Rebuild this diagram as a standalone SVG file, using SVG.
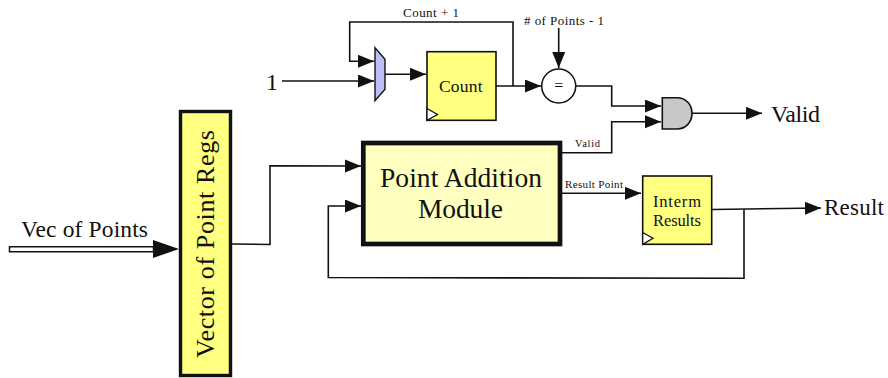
<svg xmlns="http://www.w3.org/2000/svg" width="888" height="378" viewBox="0 0 888 378">
<style>
text{font-family:"Liberation Serif","Times New Roman",serif;fill:#111}
.w{fill:none;stroke:#111;stroke-width:1.6;stroke-linejoin:miter}
.a{marker-end:url(#ah)}
.r{stroke:#111;stroke-width:1.6;fill:#ffff80}
.c{fill:#fff;stroke:#111;stroke-width:1.3}
</style>
<defs>
<marker id="ah" markerUnits="userSpaceOnUse" markerWidth="17" markerHeight="14" refX="16" refY="6.500" orient="auto"><path d="M0 0L16 6.500L0 13Z" fill="#111"/></marker>
</defs>
<rect width="888" height="378" fill="#fff"/>
<g id="connectors">
<path class="w a" d="M513 86V22H349.700V61.300H374"/>
<path class="w a" d="M282 81H374"/>
<path class="w a" d="M385 74.300H426"/>
<path class="w a" d="M496 86H541"/>
<path class="w a" d="M558.700 28V68"/>
<path class="w a" d="M576 86H611.700V106H661"/>
<path class="w a" d="M561 152.700H611.700V121.700H661"/>
<path class="w a" d="M692 113.300H762"/>
<path class="w a" d="M561 193.300H641"/>
<path class="w a" d="M712 209.500L821 208"/>
<path class="w a" d="M744 209.500V278.300L328.300 277.500V206H361"/>
<path class="w a" d="M231 244L270 244.500V165.700L361 166"/>
<path d="M9.500 246.800H153.500V251.700H9.500Z" fill="#fff" stroke="#111" stroke-width="1.500"/>
<path d="M153 240L179 249L153 258Z" fill="#111"/>
</g>
<g id="mux"><path d="M375 47.700L385 59.300V89.300L375 100.700Z" fill="#bdbdf7" stroke="#111" stroke-width="1.400"/></g>
<g id="count">
<rect class="r" x="427" y="51.700" width="69" height="68.600"/>
<path class="c" d="M427 108.500L437.500 114.500L427 120.300Z"/>
<text x="439" y="92" font-size="17.500" textLength="43.500">Count</text>
</g>
<g id="equals">
<circle cx="558.700" cy="86" r="17" fill="#fff" stroke="#111" stroke-width="1.500"/>
<text x="558.700" y="91" font-size="16" text-anchor="middle">=</text>
</g>
<g id="and"><path d="M662.300 97.700H677C686 97.700 692 104.500 692 113.300C692 122 686 129 677 129H662.300Z" fill="#c8c8c8" stroke="#111" stroke-width="1.600"/></g>
<g id="vector-regs">
<rect x="180.500" y="111.500" width="50" height="264" fill="#ffff80" stroke="#111" stroke-width="3.400"/>
<text transform="translate(214 358) rotate(-90)" font-size="26" textLength="228">Vector of Point Regs</text>
</g>
<g id="point-addition">
<rect x="363.300" y="143" width="196.700" height="101" fill="#ffffc0" stroke="#111" stroke-width="4.700"/>
<text x="380" y="187" font-size="27.500" textLength="162">Point Addition</text>
<text x="418" y="218" font-size="27.500" textLength="85">Module</text>
</g>
<g id="interm-results">
<rect class="r" x="642.700" y="176" width="69" height="68.300"/>
<path class="c" d="M642.700 232.500L653 238.300L642.700 244.300Z"/>
<text x="653" y="207" font-size="16.500" textLength="48">Interm</text>
<text x="653" y="226" font-size="16.500" textLength="48">Results</text>
</g>
<g id="labels">
<text x="266" y="90" font-size="24">1</text>
<text x="403" y="17" font-size="13" textLength="56">Count + 1</text>
<text x="524" y="25" font-size="13" textLength="80">&#35; of Points - 1</text>
<text x="771" y="122" font-size="24" textLength="49">Valid</text>
<text x="575" y="147" font-size="10.500" textLength="25">Valid</text>
<text x="565" y="188" font-size="11" textLength="58">Result Point</text>
<text x="824" y="215" font-size="23" textLength="60">Result</text>
<text x="21" y="237" font-size="23.500" textLength="127">Vec of Points</text>
</g>
</svg>
